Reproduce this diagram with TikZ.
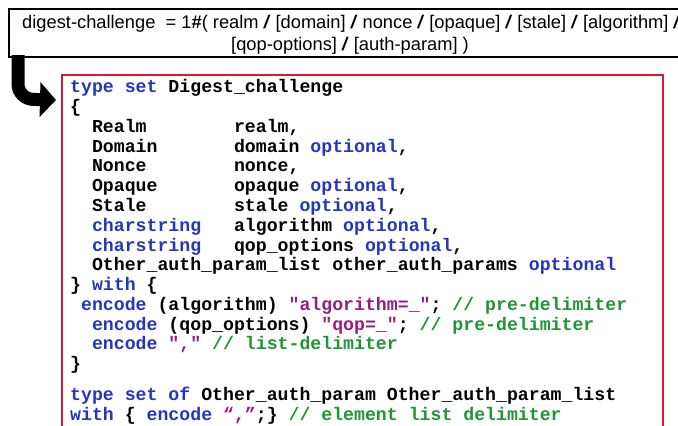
\documentclass[tikz,border=0pt]{standalone}
\usepackage{fontspec}
\setmainfont{Liberation Sans}
\newfontfamily\codefont{Liberation Mono}
\usetikzlibrary{arrows.meta}
\definecolor{kwblue}{RGB}{35,55,190}
\definecolor{strpurple}{RGB}{150,30,130}
\definecolor{cmgreen}{RGB}{30,150,50}
\definecolor{boxred}{RGB}{215,25,60}
\newcommand\kw[1]{\textcolor{kwblue}{#1}}
\newcommand\str[1]{\textcolor{strpurple}{#1}}
\newcommand\cm[1]{\textcolor{cmgreen}{#1}}
\newcommand\sk[1]{\hskip#1\dimexpr0.6em\relax}
\newcommand\alsep{\textbf{\textit{/}}}
\frenchspacing
\tikzset{
  codeline/.style={anchor=base west, inner sep=0pt,
    font=\codefont\bfseries\fontsize{18.2pt}{19.8pt}\selectfont},
  toptext/.style={inner sep=0pt, font=\fontsize{18.3pt}{22pt}\selectfont},
  topbox/.style={draw=black, line width=1.7pt, anchor=north west, inner sep=0pt},
  codebox/.style={draw=boxred, line width=1.6pt, anchor=north west, inner sep=0pt},
  bigarrow/.style={line width=13pt, rounded corners=15pt,
    -{Triangle[length=16pt,width=34pt]}}
}
\begin{document}
\begin{tikzpicture}[x=1pt,y=-1pt]
\useasboundingbox (0,0) rectangle (678,426);
\fill[white] (0,0) rectangle (678,426);
% top definition box
\node[topbox, minimum width=690pt, minimum height=48pt] (top) at (8,8) {};
\node[toptext, anchor=base west] (t1) at (22,28)
  {digest-challenge\ \ = 1\textbf{\#}( realm \alsep{} [domain] \alsep{} nonce \alsep{} [opaque] \alsep{} [stale] \alsep{} [algorithm] \alsep};
\node[toptext, anchor=base] (t2) at (350,50)
  {[qop-options] \alsep{} [auth-param] )};
% code box
\node[codebox, minimum width=601pt, minimum height=400pt] (code) at (61,74) {};
% arrow
\coordinate (astart) at (18,55);
\coordinate (aend) at (56,100);
\draw[bigarrow] (astart) -- (18,99) -- (aend);
% code lines
\node[codeline] (l1) at (70,92) {\kw{type set} Digest\_challenge};
\node[codeline] (l2) at (70,112) {\{};
\node[codeline] (l3) at (70,132) {\sk{2}Realm\sk{8}realm,};
\node[codeline] (l4) at (70,152) {\sk{2}Domain\sk{7}domain \kw{optional},};
\node[codeline] (l5) at (70,171.5) {\sk{2}Nonce\sk{8}nonce,};
\node[codeline] (l6) at (70,191.5) {\sk{2}Opaque\sk{7}opaque \kw{optional},};
\node[codeline] (l7) at (70,211) {\sk{2}Stale\sk{8}stale \kw{optional},};
\node[codeline] (l8) at (70,231) {\sk{2}\kw{charstring}\sk{3}algorithm \kw{optional},};
\node[codeline] (l9) at (70,251) {\sk{2}\kw{charstring}\sk{3}qop\_options \kw{optional},};
\node[codeline] (l10) at (70,270.5) {\sk{2}Other\_auth\_param\_list other\_auth\_params \kw{optional}};
\node[codeline] (l11) at (70,290) {\} \kw{with} \{};
\node[codeline] (l12) at (70,310) {\sk{1}\kw{encode} (algorithm) \str{"algorithm=\_"}; \cm{// pre-delimiter}};
\node[codeline] (l13) at (70,330) {\sk{2}\kw{encode} (qop\_options) \str{"qop=\_"}; \cm{// pre-delimiter}};
\node[codeline] (l14) at (70,349.5) {\sk{2}\kw{encode} \str{","} \cm{// list-delimiter}};
\node[codeline] (l15) at (70,369.5) {\}};
\node[codeline] (l16) at (70,400) {\kw{type set of} Other\_auth\_param Other\_auth\_param\_list};
\node[codeline] (l17) at (70,420) {\kw{with} \{ \kw{encode} \str{“,”};\} \cm{// element list delimiter}};
\end{tikzpicture}
\end{document}
